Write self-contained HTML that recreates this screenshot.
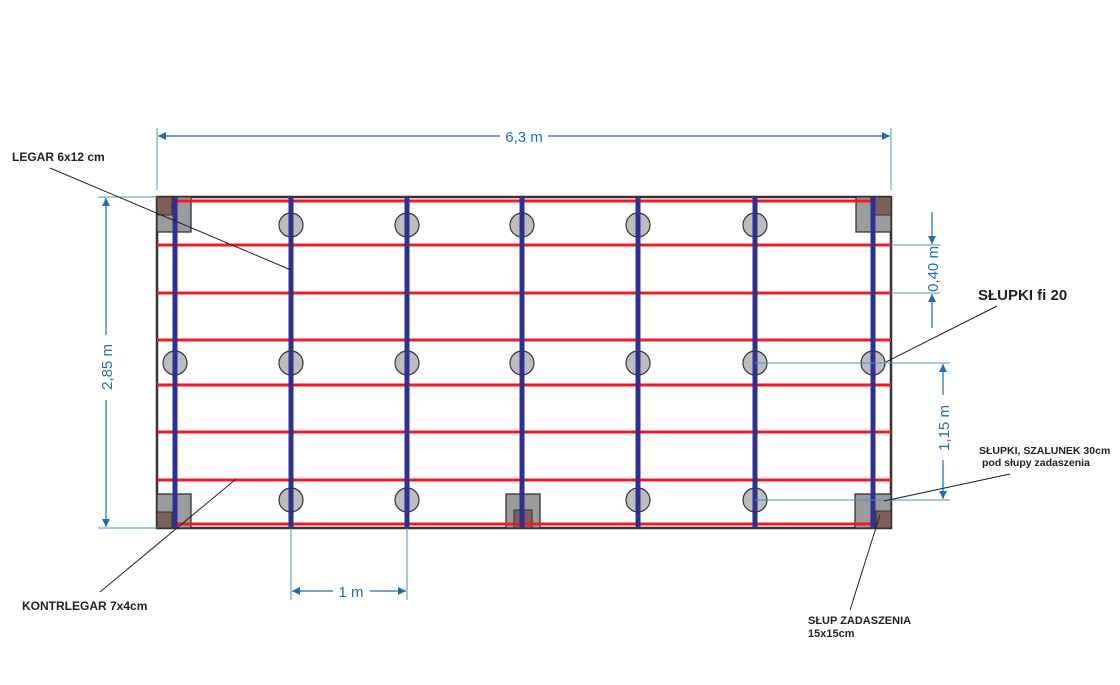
<!DOCTYPE html>
<html><head><meta charset="utf-8"><style>body{margin:0;background:#fff}svg{display:block}text{font-family:"Liberation Sans",sans-serif}</style></head><body>
<svg width="1120" height="685" viewBox="0 0 1120 685" xmlns="http://www.w3.org/2000/svg">
<defs><marker id="a" viewBox="0 0 10 10" refX="10" refY="5" markerWidth="10" markerHeight="8" orient="auto-start-reverse" markerUnits="userSpaceOnUse"><path d="M0,0L10,5L0,10z" fill="#1f6fb0"/></marker></defs>
<rect x="157" y="197" width="734" height="331" fill="#fff" stroke="#333" stroke-width="2.5"/>
<g fill="#9a9b9d" stroke="#333" stroke-width="1.3">
<rect x="157" y="197" width="34" height="35"/><rect x="856" y="197" width="35" height="35"/>
<rect x="157" y="494" width="34" height="34"/><rect x="855" y="494" width="36" height="34"/>
<rect x="506" y="494" width="34" height="34"/></g>
<g fill="#7d6058" stroke="#333" stroke-width="1">
<rect x="157" y="197" width="15" height="18"/><rect x="875" y="197" width="16" height="18"/>
<rect x="157" y="512" width="15" height="16"/><rect x="876" y="511" width="15" height="17"/>
<rect x="514" y="510" width="18" height="18"/></g>
<g fill="#bcbdc0" stroke="#333" stroke-width="1.2">
<circle cx="291" cy="225" r="12"/><circle cx="407" cy="225" r="12"/><circle cx="522" cy="225" r="12"/><circle cx="638" cy="225" r="12"/><circle cx="755" cy="225" r="12"/>
<circle cx="175" cy="363" r="12"/><circle cx="291" cy="363" r="12"/><circle cx="407" cy="363" r="12"/><circle cx="522" cy="363" r="12"/><circle cx="638" cy="363" r="12"/><circle cx="755" cy="363" r="12"/><circle cx="873" cy="363" r="12"/>
<circle cx="291" cy="500" r="12"/><circle cx="407" cy="500" r="12"/><circle cx="638" cy="500" r="12"/><circle cx="755" cy="500" r="12"/></g>
<g stroke="#ed1c24" stroke-width="3">
<line x1="172" y1="201" x2="873" y2="201"/><line x1="157" y1="245" x2="891" y2="245"/><line x1="157" y1="293" x2="891" y2="293"/><line x1="157" y1="340" x2="891" y2="340"/><line x1="157" y1="385" x2="891" y2="385"/><line x1="157" y1="432" x2="891" y2="432"/><line x1="157" y1="480" x2="891" y2="480"/><line x1="175" y1="524" x2="873" y2="524"/></g>
<g stroke="#2e3192" stroke-width="5">
<line x1="175" y1="197" x2="175" y2="528"/><line x1="291" y1="197" x2="291" y2="528"/><line x1="407" y1="197" x2="407" y2="528"/><line x1="522" y1="197" x2="522" y2="528"/><line x1="638" y1="197" x2="638" y2="528"/><line x1="755" y1="197" x2="755" y2="528"/><line x1="873" y1="197" x2="873" y2="528"/></g>
<g stroke="#4a90c8" stroke-width="1" fill="none">
<line x1="157" y1="128" x2="157" y2="190"/><line x1="891" y1="128" x2="891" y2="190"/>
<line x1="98" y1="197" x2="157" y2="197"/><line x1="98" y1="528" x2="157" y2="528"/>
<line x1="891" y1="245" x2="940" y2="245"/><line x1="891" y1="293" x2="940" y2="293"/>
<line x1="755" y1="363" x2="950" y2="363"/><line x1="755" y1="500" x2="950" y2="500"/>
<line x1="291" y1="528" x2="291" y2="600"/><line x1="407" y1="528" x2="407" y2="600"/></g>
<g stroke="#1f6fb0" stroke-width="1.2" fill="none">
<line x1="158" y1="136" x2="500" y2="136" marker-start="url(#a)"/><line x1="548" y1="136" x2="890" y2="136" marker-end="url(#a)"/>
<line x1="106" y1="198" x2="106" y2="335" marker-start="url(#a)"/><line x1="106" y1="400" x2="106" y2="527" marker-end="url(#a)"/>
<line x1="932" y1="212" x2="932" y2="244" marker-end="url(#a)"/><line x1="932" y1="328" x2="932" y2="294" marker-end="url(#a)"/>
<line x1="943" y1="364" x2="943" y2="395" marker-start="url(#a)"/><line x1="943" y1="460" x2="943" y2="499" marker-end="url(#a)"/>
<line x1="292" y1="591" x2="333" y2="591" marker-start="url(#a)"/><line x1="370" y1="591" x2="406" y2="591" marker-end="url(#a)"/></g>
<g fill="#1f6fb0" font-size="15">
<text x="524" y="142" text-anchor="middle">6,3 m</text>
<text transform="translate(112,367) rotate(-90)" text-anchor="middle">2,85 m</text>
<text transform="translate(938,269) rotate(-90)" text-anchor="middle">0,40 m</text>
<text transform="translate(949,428) rotate(-90)" text-anchor="middle">1,15 m</text>
<text x="351" y="597" text-anchor="middle">1 m</text></g>
<g stroke="#222" stroke-width="1">
<line x1="50" y1="168" x2="291" y2="270"/><line x1="997" y1="306" x2="886" y2="362"/>
<line x1="1010" y1="474" x2="884" y2="501"/><line x1="880" y1="515" x2="850" y2="610"/>
<line x1="236" y1="479" x2="100" y2="592"/></g>
<g fill="#222" font-weight="bold" font-size="12">
<text x="12" y="161">LEGAR 6x12 cm</text>
<text x="978" y="300" font-size="15">SŁUPKI fi 20</text>
<text x="979" y="454" font-size="10.5">SŁUPKI, SZALUNEK 30cm</text>
<text x="982" y="466" font-size="10.5">pod słupy zadaszenia</text>
<text x="808" y="624" font-size="11">SŁUP ZADASZENIA</text>
<text x="808" y="637" font-size="11">15x15cm</text>
<text x="22" y="610">KONTRLEGAR 7x4cm</text></g>
</svg></body></html>
